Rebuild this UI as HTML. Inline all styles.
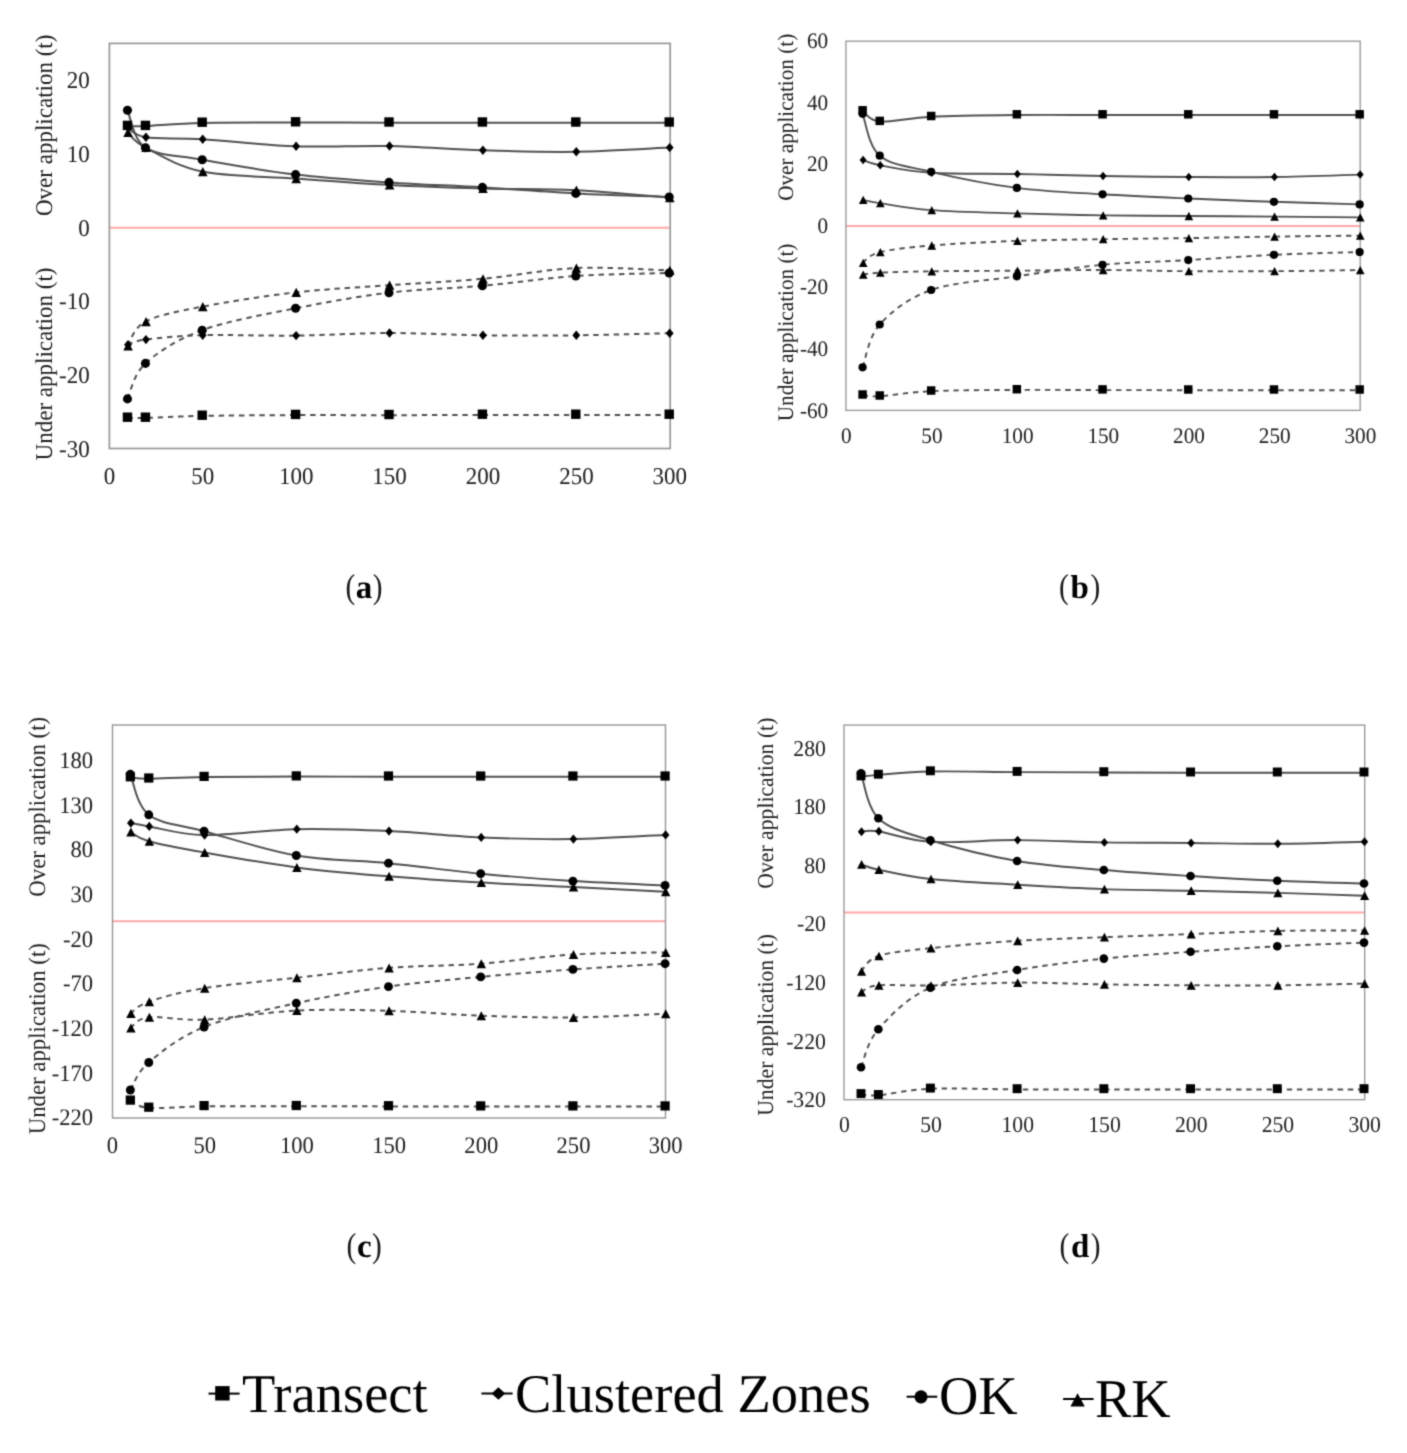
<!DOCTYPE html><html><head><meta charset="utf-8"><style>html,body{margin:0;padding:0;background:#fff;}svg{display:block;}text{font-family:"Liberation Serif", serif;text-rendering:geometricPrecision;}</style></head><body><svg width="1407" height="1453" viewBox="0 0 1407 1453"><defs><filter id="bl" x="0" y="0" width="1407" height="1453" filterUnits="userSpaceOnUse" color-interpolation-filters="sRGB"><feConvolveMatrix order="3" kernelMatrix="1 4 1 4 16 4 1 4 1" divisor="36" edgeMode="duplicate"/></filter></defs><g filter="url(#bl)"><rect width="1407" height="1453" fill="#fff"/><g><line x1="109.4" y1="227.7" x2="670.2" y2="227.7" stroke="#ffa8a8" stroke-width="2"/><rect x="109.4" y="43.4" width="560.8" height="405.1" fill="none" stroke="#989898" stroke-width="1.7"/><path d="M127.48,126.1C130.47,126.1 133,126.63 145.45,126.1C157.9,125.57 177.17,123.5 202.2,122.9C227.22,122.3 264.47,122.53 295.6,122.5C326.73,122.47 357.87,122.67 389,122.7C420.13,122.73 451.27,122.7 482.4,122.7C513.53,122.7 544.67,122.7 575.8,122.7C606.93,122.7 653.63,122.7 669.2,122.7" fill="none" stroke="#515151" stroke-width="2"/><path d="M127.48,127.5C130.47,129.12 133,135.25 145.45,137.2C157.9,139.15 177.17,137.68 202.2,139.2C227.22,140.72 264.47,145.17 295.6,146.3C326.73,147.43 357.87,145.33 389,146C420.13,146.67 451.27,149.33 482.4,150.3C513.53,151.27 544.67,152.25 575.8,151.8C606.93,151.35 653.63,148.3 669.2,147.6" fill="none" stroke="#515151" stroke-width="2"/><path d="M127.48,110.3C130.47,116.53 133,139.47 145.45,147.7C157.9,155.93 177.17,155.22 202.2,159.7C227.22,164.18 264.47,170.82 295.6,174.6C326.73,178.38 357.87,180.27 389,182.4C420.13,184.53 451.27,185.57 482.4,187.4C513.53,189.23 544.67,191.8 575.8,193.4C606.93,195 653.63,196.4 669.2,197" fill="none" stroke="#515151" stroke-width="2"/><path d="M127.48,132.4C130.47,134.92 133,140.97 145.45,147.5C157.9,154.03 177.17,166.42 202.2,171.6C227.22,176.78 264.47,176.37 295.6,178.6C326.73,180.83 357.87,183.35 389,185C420.13,186.65 451.27,187.63 482.4,188.5C513.53,189.37 544.67,188.67 575.8,190.2C606.93,191.73 653.63,196.45 669.2,197.7" fill="none" stroke="#515151" stroke-width="2"/><path d="M127.48,417.9C130.47,417.9 133,418.23 145.45,417.9C157.9,417.57 177.17,416.37 202.2,415.9C227.22,415.43 264.47,415.22 295.6,415.1C326.73,414.98 357.87,415.23 389,415.2C420.13,415.17 451.27,414.95 482.4,414.9C513.53,414.85 544.67,414.9 575.8,414.9C606.93,414.9 653.63,414.9 669.2,414.9" fill="none" stroke="#515151" stroke-width="2" stroke-dasharray="5.4 4.75"/><path d="M127.48,344.7C130.47,343.85 133,341.18 145.45,339.6C157.9,338.02 177.17,335.87 202.2,335.2C227.22,334.53 264.47,335.97 295.6,335.6C326.73,335.23 357.87,333.05 389,333C420.13,332.95 451.27,334.92 482.4,335.3C513.53,335.68 544.67,335.65 575.8,335.3C606.93,334.95 653.63,333.55 669.2,333.2" fill="none" stroke="#515151" stroke-width="2" stroke-dasharray="5.4 4.75"/><path d="M127.48,398.9C130.47,392.98 133,374.85 145.45,363.4C157.9,351.95 177.17,339.38 202.2,330.2C227.22,321.02 264.47,314.55 295.6,308.3C326.73,302.05 357.87,296.45 389,292.7C420.13,288.95 451.27,288.58 482.4,285.8C513.53,283.02 544.67,278.13 575.8,276C606.93,273.87 653.63,273.5 669.2,273" fill="none" stroke="#515151" stroke-width="2" stroke-dasharray="5.4 4.75"/><path d="M127.48,346C130.47,341.93 133,328.15 145.45,321.6C157.9,315.05 177.17,311.57 202.2,306.7C227.22,301.83 264.47,295.98 295.6,292.4C326.73,288.82 357.87,287.47 389,285.2C420.13,282.93 451.27,281.65 482.4,278.8C513.53,275.95 544.67,269.52 575.8,268.1C606.93,266.68 653.63,269.93 669.2,270.3" fill="none" stroke="#515151" stroke-width="2" stroke-dasharray="5.4 4.75"/><g fill="#000"><rect x="122.78" y="120.7" width="9.4" height="9.4"/><rect x="140.75" y="120.7" width="9.4" height="9.4"/><rect x="197.5" y="117.5" width="9.4" height="9.4"/><rect x="290.9" y="117.1" width="9.4" height="9.4"/><rect x="384.3" y="117.3" width="9.4" height="9.4"/><rect x="477.7" y="117.3" width="9.4" height="9.4"/><rect x="571.1" y="117.3" width="9.4" height="9.4"/><rect x="664.5" y="117.3" width="9.4" height="9.4"/><path d="M127.98,122.8L131.88,127.5L127.98,132.2L124.08,127.5Z"/><path d="M145.95,132.5L149.85,137.2L145.95,141.9L142.05,137.2Z"/><path d="M202.7,134.5L206.6,139.2L202.7,143.9L198.8,139.2Z"/><path d="M296.1,141.6L300,146.3L296.1,151L292.2,146.3Z"/><path d="M389.5,141.3L393.4,146L389.5,150.7L385.6,146Z"/><path d="M482.9,145.6L486.8,150.3L482.9,155L479,150.3Z"/><path d="M576.3,147.1L580.2,151.8L576.3,156.5L572.4,151.8Z"/><path d="M669.7,142.9L673.6,147.6L669.7,152.3L665.8,147.6Z"/><circle cx="127.48" cy="110.3" r="4.55"/><circle cx="145.45" cy="147.7" r="4.55"/><circle cx="202.2" cy="159.7" r="4.55"/><circle cx="295.6" cy="174.6" r="4.55"/><circle cx="389" cy="182.4" r="4.55"/><circle cx="482.4" cy="187.4" r="4.55"/><circle cx="575.8" cy="193.4" r="4.55"/><circle cx="669.2" cy="197" r="4.55"/><path d="M128.08,127.8L132.88,137L123.28,137Z"/><path d="M146.05,142.9L150.85,152.1L141.25,152.1Z"/><path d="M202.8,167L207.6,176.2L198,176.2Z"/><path d="M296.2,174L301,183.2L291.4,183.2Z"/><path d="M389.6,180.4L394.4,189.6L384.8,189.6Z"/><path d="M483,183.9L487.8,193.1L478.2,193.1Z"/><path d="M576.4,185.6L581.2,194.8L571.6,194.8Z"/><path d="M669.8,193.1L674.6,202.3L665,202.3Z"/><rect x="122.78" y="412.5" width="9.4" height="9.4"/><rect x="140.75" y="412.5" width="9.4" height="9.4"/><rect x="197.5" y="410.5" width="9.4" height="9.4"/><rect x="290.9" y="409.7" width="9.4" height="9.4"/><rect x="384.3" y="409.8" width="9.4" height="9.4"/><rect x="477.7" y="409.5" width="9.4" height="9.4"/><rect x="571.1" y="409.5" width="9.4" height="9.4"/><rect x="664.5" y="409.5" width="9.4" height="9.4"/><path d="M127.98,340L131.88,344.7L127.98,349.4L124.08,344.7Z"/><path d="M145.95,334.9L149.85,339.6L145.95,344.3L142.05,339.6Z"/><path d="M202.7,330.5L206.6,335.2L202.7,339.9L198.8,335.2Z"/><path d="M296.1,330.9L300,335.6L296.1,340.3L292.2,335.6Z"/><path d="M389.5,328.3L393.4,333L389.5,337.7L385.6,333Z"/><path d="M482.9,330.6L486.8,335.3L482.9,340L479,335.3Z"/><path d="M576.3,330.6L580.2,335.3L576.3,340L572.4,335.3Z"/><path d="M669.7,328.5L673.6,333.2L669.7,337.9L665.8,333.2Z"/><circle cx="127.48" cy="398.9" r="4.55"/><circle cx="145.45" cy="363.4" r="4.55"/><circle cx="202.2" cy="330.2" r="4.55"/><circle cx="295.6" cy="308.3" r="4.55"/><circle cx="389" cy="292.7" r="4.55"/><circle cx="482.4" cy="285.8" r="4.55"/><circle cx="575.8" cy="276" r="4.55"/><circle cx="669.2" cy="273" r="4.55"/><path d="M128.08,341.4L132.88,350.6L123.28,350.6Z"/><path d="M146.05,317L150.85,326.2L141.25,326.2Z"/><path d="M202.8,302.1L207.6,311.3L198,311.3Z"/><path d="M296.2,287.8L301,297L291.4,297Z"/><path d="M389.6,280.6L394.4,289.8L384.8,289.8Z"/><path d="M483,274.2L487.8,283.4L478.2,283.4Z"/><path d="M576.4,263.5L581.2,272.7L571.6,272.7Z"/><path d="M669.8,265.7L674.6,274.9L665,274.9Z"/></g><g font-size="23" fill="#202020"><text transform="translate(89.7,87.83) scale(1,1.045)" text-anchor="end">20</text><text transform="translate(89.7,161.73) scale(1,1.045)" text-anchor="end">10</text><text transform="translate(89.7,235.63) scale(1,1.045)" text-anchor="end">0</text><text transform="translate(89.7,309.33) scale(1,1.045)" text-anchor="end">-10</text><text transform="translate(89.7,383.03) scale(1,1.045)" text-anchor="end">-20</text><text transform="translate(89.7,456.73) scale(1,1.045)" text-anchor="end">-30</text><text transform="translate(109.4,483.93) scale(1,1.045)" text-anchor="middle">0</text><text transform="translate(202.8,483.93) scale(1,1.045)" text-anchor="middle">50</text><text transform="translate(296.2,483.93) scale(1,1.045)" text-anchor="middle">100</text><text transform="translate(389.6,483.93) scale(1,1.045)" text-anchor="middle">150</text><text transform="translate(483,483.93) scale(1,1.045)" text-anchor="middle">200</text><text transform="translate(576.4,483.93) scale(1,1.045)" text-anchor="middle">250</text><text transform="translate(669.8,483.93) scale(1,1.045)" text-anchor="middle">300</text></g><text transform="translate(52.4,125.3) rotate(-90) scale(1,1.045)" text-anchor="middle" font-size="23" fill="#202020">Over application (t)</text><text transform="translate(52.4,364) rotate(-90) scale(1,1.045)" text-anchor="middle" font-size="23" fill="#202020">Under application (t)</text></g><g><line x1="845.9" y1="226" x2="1360.2" y2="226" stroke="#ffa8a8" stroke-width="2"/><rect x="845.9" y="41.2" width="514.3" height="369.2" fill="none" stroke="#989898" stroke-width="1.35"/><path d="M862.6,111C865.46,112.77 868.31,120.65 879.74,121.6C891.17,122.55 908.31,117.8 931.16,116.7C954.01,115.6 988.29,115.28 1016.86,115C1045.43,114.72 1073.99,115 1102.56,115C1131.13,115 1159.69,115 1188.26,115C1216.83,115 1245.39,115 1273.96,115C1302.53,115 1345.38,115 1359.66,115" fill="none" stroke="#515151" stroke-width="1.9"/><path d="M862.6,160C865.46,160.88 868.31,163.17 879.74,165.3C891.17,167.43 908.31,171.35 931.16,172.8C954.01,174.25 988.29,173.47 1016.86,174C1045.43,174.53 1073.99,175.5 1102.56,176C1131.13,176.5 1159.69,176.83 1188.26,177C1216.83,177.17 1245.39,177.4 1273.96,177C1302.53,176.6 1345.38,175 1359.66,174.6" fill="none" stroke="#515151" stroke-width="1.9"/><path d="M862.6,113.8C865.46,120.78 868.31,146.03 879.74,155.7C891.17,165.37 908.31,166.43 931.16,171.8C954.01,177.17 988.29,184.15 1016.86,187.9C1045.43,191.65 1073.99,192.53 1102.56,194.3C1131.13,196.07 1159.69,197.25 1188.26,198.5C1216.83,199.75 1245.39,200.82 1273.96,201.8C1302.53,202.78 1345.38,203.97 1359.66,204.4" fill="none" stroke="#515151" stroke-width="1.9"/><path d="M862.6,199.8C865.46,200.35 868.31,201.38 879.74,203.1C891.17,204.82 908.31,208.38 931.16,210.1C954.01,211.82 988.29,212.52 1016.86,213.4C1045.43,214.28 1073.99,214.97 1102.56,215.4C1131.13,215.83 1159.69,215.8 1188.26,216C1216.83,216.2 1245.39,216.37 1273.96,216.6C1302.53,216.83 1345.38,217.27 1359.66,217.4" fill="none" stroke="#515151" stroke-width="1.9"/><path d="M862.6,395.2C865.46,395.37 868.31,396.87 879.74,396.2C891.17,395.53 908.31,392.25 931.16,391.2C954.01,390.15 988.29,390.08 1016.86,389.9C1045.43,389.72 1073.99,390.05 1102.56,390.1C1131.13,390.15 1159.69,390.18 1188.26,390.2C1216.83,390.22 1245.39,390.2 1273.96,390.2C1302.53,390.2 1345.38,390.2 1359.66,390.2" fill="none" stroke="#515151" stroke-width="1.9" stroke-dasharray="5.4 4.75"/><path d="M862.6,274.7C865.46,274.37 868.31,273.27 879.74,272.7C891.17,272.13 908.31,271.63 931.16,271.3C954.01,270.97 988.29,270.92 1016.86,270.7C1045.43,270.48 1073.99,269.92 1102.56,270C1131.13,270.08 1159.69,271 1188.26,271.2C1216.83,271.4 1245.39,271.38 1273.96,271.2C1302.53,271.02 1345.38,270.28 1359.66,270.1" fill="none" stroke="#515151" stroke-width="1.9" stroke-dasharray="5.4 4.75"/><path d="M862.6,367.3C865.46,360.17 868.31,337.38 879.74,324.5C891.17,311.62 908.31,298.03 931.16,290C954.01,281.97 988.29,280.5 1016.86,276.3C1045.43,272.1 1073.99,267.5 1102.56,264.8C1131.13,262.1 1159.69,261.77 1188.26,260.1C1216.83,258.43 1245.39,256.15 1273.96,254.8C1302.53,253.45 1345.38,252.47 1359.66,252" fill="none" stroke="#515151" stroke-width="1.9" stroke-dasharray="5.4 4.75"/><path d="M862.6,262.8C865.46,261.03 868.31,255.08 879.74,252.2C891.17,249.32 908.31,247.38 931.16,245.5C954.01,243.62 988.29,241.95 1016.86,240.9C1045.43,239.85 1073.99,239.67 1102.56,239.2C1131.13,238.73 1159.69,238.53 1188.26,238.1C1216.83,237.67 1245.39,237.02 1273.96,236.6C1302.53,236.18 1345.38,235.77 1359.66,235.6" fill="none" stroke="#515151" stroke-width="1.9" stroke-dasharray="5.4 4.75"/><g fill="#000"><rect x="858.37" y="106.07" width="8.46" height="8.46"/><rect x="875.51" y="116.67" width="8.46" height="8.46"/><rect x="926.93" y="111.77" width="8.46" height="8.46"/><rect x="1012.63" y="110.07" width="8.46" height="8.46"/><rect x="1098.33" y="110.07" width="8.46" height="8.46"/><rect x="1184.03" y="110.07" width="8.46" height="8.46"/><rect x="1269.73" y="110.07" width="8.46" height="8.46"/><rect x="1355.43" y="110.07" width="8.46" height="8.46"/><path d="M863.1,155.77L866.61,160L863.1,164.23L859.59,160Z"/><path d="M880.24,161.07L883.75,165.3L880.24,169.53L876.73,165.3Z"/><path d="M931.66,168.57L935.17,172.8L931.66,177.03L928.15,172.8Z"/><path d="M1017.36,169.77L1020.87,174L1017.36,178.23L1013.85,174Z"/><path d="M1103.06,171.77L1106.57,176L1103.06,180.23L1099.55,176Z"/><path d="M1188.76,172.77L1192.27,177L1188.76,181.23L1185.25,177Z"/><path d="M1274.46,172.77L1277.97,177L1274.46,181.23L1270.95,177Z"/><path d="M1360.16,170.37L1363.67,174.6L1360.16,178.83L1356.65,174.6Z"/><circle cx="862.6" cy="113.8" r="4.09"/><circle cx="879.74" cy="155.7" r="4.09"/><circle cx="931.16" cy="171.8" r="4.09"/><circle cx="1016.86" cy="187.9" r="4.09"/><circle cx="1102.56" cy="194.3" r="4.09"/><circle cx="1188.26" cy="198.5" r="4.09"/><circle cx="1273.96" cy="201.8" r="4.09"/><circle cx="1359.66" cy="204.4" r="4.09"/><path d="M863.2,195.66L867.52,203.94L858.88,203.94Z"/><path d="M880.34,198.96L884.66,207.24L876.02,207.24Z"/><path d="M931.76,205.96L936.08,214.24L927.44,214.24Z"/><path d="M1017.46,209.26L1021.78,217.54L1013.14,217.54Z"/><path d="M1103.16,211.26L1107.48,219.54L1098.84,219.54Z"/><path d="M1188.86,211.86L1193.18,220.14L1184.54,220.14Z"/><path d="M1274.56,212.46L1278.88,220.74L1270.24,220.74Z"/><path d="M1360.26,213.26L1364.58,221.54L1355.94,221.54Z"/><rect x="858.37" y="390.27" width="8.46" height="8.46"/><rect x="875.51" y="391.27" width="8.46" height="8.46"/><rect x="926.93" y="386.27" width="8.46" height="8.46"/><rect x="1012.63" y="384.97" width="8.46" height="8.46"/><rect x="1098.33" y="385.17" width="8.46" height="8.46"/><rect x="1184.03" y="385.27" width="8.46" height="8.46"/><rect x="1269.73" y="385.27" width="8.46" height="8.46"/><rect x="1355.43" y="385.27" width="8.46" height="8.46"/><path d="M863.2,270.56L867.52,278.84L858.88,278.84Z"/><path d="M880.34,268.56L884.66,276.84L876.02,276.84Z"/><path d="M931.76,267.16L936.08,275.44L927.44,275.44Z"/><path d="M1017.46,266.56L1021.78,274.84L1013.14,274.84Z"/><path d="M1103.16,265.86L1107.48,274.14L1098.84,274.14Z"/><path d="M1188.86,267.06L1193.18,275.34L1184.54,275.34Z"/><path d="M1274.56,267.06L1278.88,275.34L1270.24,275.34Z"/><path d="M1360.26,265.96L1364.58,274.24L1355.94,274.24Z"/><circle cx="862.6" cy="367.3" r="4.09"/><circle cx="879.74" cy="324.5" r="4.09"/><circle cx="931.16" cy="290" r="4.09"/><circle cx="1016.86" cy="276.3" r="4.09"/><circle cx="1102.56" cy="264.8" r="4.09"/><circle cx="1188.26" cy="260.1" r="4.09"/><circle cx="1273.96" cy="254.8" r="4.09"/><circle cx="1359.66" cy="252" r="4.09"/><path d="M863.2,258.66L867.52,266.94L858.88,266.94Z"/><path d="M880.34,248.06L884.66,256.34L876.02,256.34Z"/><path d="M931.76,241.36L936.08,249.64L927.44,249.64Z"/><path d="M1017.46,236.76L1021.78,245.04L1013.14,245.04Z"/><path d="M1103.16,235.06L1107.48,243.34L1098.84,243.34Z"/><path d="M1188.86,233.96L1193.18,242.24L1184.54,242.24Z"/><path d="M1274.56,232.46L1278.88,240.74L1270.24,240.74Z"/><path d="M1360.26,231.46L1364.58,239.74L1355.94,239.74Z"/></g><g font-size="21.2" fill="#202020"><text transform="translate(828.2,48.21) scale(1,1.045)" text-anchor="end">60</text><text transform="translate(828.2,109.76) scale(1,1.045)" text-anchor="end">40</text><text transform="translate(828.2,171.31) scale(1,1.045)" text-anchor="end">20</text><text transform="translate(828.2,232.86) scale(1,1.045)" text-anchor="end">0</text><text transform="translate(828.2,294.41) scale(1,1.045)" text-anchor="end">-20</text><text transform="translate(828.2,355.96) scale(1,1.045)" text-anchor="end">-40</text><text transform="translate(828.2,417.51) scale(1,1.045)" text-anchor="end">-60</text><text transform="translate(846.21,442.71) scale(1,1.045)" text-anchor="middle">0</text><text transform="translate(931.91,442.71) scale(1,1.045)" text-anchor="middle">50</text><text transform="translate(1017.61,442.71) scale(1,1.045)" text-anchor="middle">100</text><text transform="translate(1103.31,442.71) scale(1,1.045)" text-anchor="middle">150</text><text transform="translate(1189.01,442.71) scale(1,1.045)" text-anchor="middle">200</text><text transform="translate(1274.71,442.71) scale(1,1.045)" text-anchor="middle">250</text><text transform="translate(1360.41,442.71) scale(1,1.045)" text-anchor="middle">300</text></g><text transform="translate(793,117.3) rotate(-90) scale(1,1.045)" text-anchor="middle" font-size="21.2" fill="#202020">Over application (t)</text><text transform="translate(793,332.4) rotate(-90) scale(1,1.045)" text-anchor="middle" font-size="21.2" fill="#202020">Under application (t)</text></g><g><line x1="112.5" y1="921.3" x2="665.5" y2="921.3" stroke="#ffa8a8" stroke-width="2"/><rect x="112.5" y="725" width="553" height="393" fill="none" stroke="#989898" stroke-width="1.45"/><path d="M130.34,777.5C133.41,777.7 136.49,778.77 148.78,778.7C161.07,778.63 179.51,777.45 204.1,777.1C228.69,776.75 265.57,776.67 296.3,776.6C327.03,776.53 357.77,776.68 388.5,776.7C419.23,776.72 449.97,776.7 480.7,776.7C511.43,776.7 542.17,776.7 572.9,776.7C603.63,776.7 649.73,776.7 665.1,776.7" fill="none" stroke="#515151" stroke-width="1.98"/><path d="M130.34,823.1C133.41,823.65 136.49,824.4 148.78,826.4C161.07,828.4 179.51,834.63 204.1,835.1C228.69,835.57 265.57,829.87 296.3,829.2C327.03,828.53 357.77,829.73 388.5,831.1C419.23,832.47 449.97,836.07 480.7,837.4C511.43,838.73 542.17,839.52 572.9,839.1C603.63,838.68 649.73,835.6 665.1,834.9" fill="none" stroke="#515151" stroke-width="1.98"/><path d="M130.34,774.3C133.41,781.05 136.49,805.32 148.78,814.8C161.07,824.28 179.51,824.42 204.1,831.2C228.69,837.98 265.57,850.17 296.3,855.5C327.03,860.83 357.77,860.17 388.5,863.2C419.23,866.23 449.97,870.72 480.7,873.7C511.43,876.68 542.17,879.15 572.9,881.1C603.63,883.05 649.73,884.68 665.1,885.4" fill="none" stroke="#515151" stroke-width="1.98"/><path d="M130.34,832.1C133.41,833.62 136.49,837.82 148.78,841.2C161.07,844.58 179.51,848.03 204.1,852.4C228.69,856.77 265.57,863.42 296.3,867.4C327.03,871.38 357.77,873.77 388.5,876.3C419.23,878.83 449.97,880.8 480.7,882.6C511.43,884.4 542.17,885.57 572.9,887.1C603.63,888.63 649.73,891.02 665.1,891.8" fill="none" stroke="#515151" stroke-width="1.98"/><path d="M130.34,1100.8C133.41,1101.98 136.49,1106.98 148.78,1107.9C161.07,1108.82 179.51,1106.58 204.1,1106.3C228.69,1106.02 265.57,1106.18 296.3,1106.2C327.03,1106.22 357.77,1106.33 388.5,1106.4C419.23,1106.47 449.97,1106.57 480.7,1106.6C511.43,1106.63 542.17,1106.6 572.9,1106.6C603.63,1106.6 649.73,1106.6 665.1,1106.6" fill="none" stroke="#515151" stroke-width="1.98" stroke-dasharray="5.4 4.75"/><path d="M130.34,1028C133.41,1026.2 136.49,1018.58 148.78,1017.2C161.07,1015.82 179.51,1020.8 204.1,1019.7C228.69,1018.6 265.57,1012.08 296.3,1010.6C327.03,1009.12 357.77,1009.95 388.5,1010.8C419.23,1011.65 449.97,1014.6 480.7,1015.7C511.43,1016.8 542.17,1017.72 572.9,1017.4C603.63,1017.08 649.73,1014.4 665.1,1013.8" fill="none" stroke="#515151" stroke-width="1.98" stroke-dasharray="5.4 4.75"/><path d="M130.34,1090C133.41,1085.42 136.49,1073 148.78,1062.5C161.07,1052 179.51,1036.88 204.1,1027C228.69,1017.12 265.57,1009.93 296.3,1003.2C327.03,996.47 357.77,990.98 388.5,986.6C419.23,982.22 449.97,979.77 480.7,976.9C511.43,974.03 542.17,971.6 572.9,969.4C603.63,967.2 649.73,964.65 665.1,963.7" fill="none" stroke="#515151" stroke-width="1.98" stroke-dasharray="5.4 4.75"/><path d="M130.34,1013.6C133.41,1011.62 136.49,1005.93 148.78,1001.7C161.07,997.47 179.51,992.18 204.1,988.2C228.69,984.22 265.57,981.18 296.3,977.8C327.03,974.42 357.77,970.25 388.5,967.9C419.23,965.55 449.97,965.93 480.7,963.7C511.43,961.47 542.17,956.38 572.9,954.5C603.63,952.62 649.73,952.75 665.1,952.4" fill="none" stroke="#515151" stroke-width="1.98" stroke-dasharray="5.4 4.75"/><g fill="#000"><rect x="125.73" y="772.19" width="9.21" height="9.21"/><rect x="144.17" y="773.39" width="9.21" height="9.21"/><rect x="199.49" y="771.79" width="9.21" height="9.21"/><rect x="291.69" y="771.29" width="9.21" height="9.21"/><rect x="383.89" y="771.39" width="9.21" height="9.21"/><rect x="476.09" y="771.39" width="9.21" height="9.21"/><rect x="568.29" y="771.39" width="9.21" height="9.21"/><rect x="660.49" y="771.39" width="9.21" height="9.21"/><path d="M130.84,818.49L134.66,823.1L130.84,827.71L127.02,823.1Z"/><path d="M149.28,821.79L153.1,826.4L149.28,831.01L145.46,826.4Z"/><path d="M204.6,830.49L208.42,835.1L204.6,839.71L200.78,835.1Z"/><path d="M296.8,824.59L300.62,829.2L296.8,833.81L292.98,829.2Z"/><path d="M389,826.49L392.82,831.1L389,835.71L385.18,831.1Z"/><path d="M481.2,832.79L485.02,837.4L481.2,842.01L477.38,837.4Z"/><path d="M573.4,834.49L577.22,839.1L573.4,843.71L569.58,839.1Z"/><path d="M665.6,830.29L669.42,834.9L665.6,839.51L661.78,834.9Z"/><circle cx="130.34" cy="774.3" r="4.46"/><circle cx="148.78" cy="814.8" r="4.46"/><circle cx="204.1" cy="831.2" r="4.46"/><circle cx="296.3" cy="855.5" r="4.46"/><circle cx="388.5" cy="863.2" r="4.46"/><circle cx="480.7" cy="873.7" r="4.46"/><circle cx="572.9" cy="881.1" r="4.46"/><circle cx="665.1" cy="885.4" r="4.46"/><path d="M130.94,827.59L135.64,836.61L126.24,836.61Z"/><path d="M149.38,836.69L154.08,845.71L144.68,845.71Z"/><path d="M204.7,847.89L209.4,856.91L200,856.91Z"/><path d="M296.9,862.89L301.6,871.91L292.2,871.91Z"/><path d="M389.1,871.79L393.8,880.81L384.4,880.81Z"/><path d="M481.3,878.09L486,887.11L476.6,887.11Z"/><path d="M573.5,882.59L578.2,891.61L568.8,891.61Z"/><path d="M665.7,887.29L670.4,896.31L661,896.31Z"/><rect x="125.73" y="1095.49" width="9.21" height="9.21"/><rect x="144.17" y="1102.59" width="9.21" height="9.21"/><rect x="199.49" y="1100.99" width="9.21" height="9.21"/><rect x="291.69" y="1100.89" width="9.21" height="9.21"/><rect x="383.89" y="1101.09" width="9.21" height="9.21"/><rect x="476.09" y="1101.29" width="9.21" height="9.21"/><rect x="568.29" y="1101.29" width="9.21" height="9.21"/><rect x="660.49" y="1101.29" width="9.21" height="9.21"/><path d="M130.94,1023.49L135.64,1032.51L126.24,1032.51Z"/><path d="M149.38,1012.69L154.08,1021.71L144.68,1021.71Z"/><path d="M204.7,1015.19L209.4,1024.21L200,1024.21Z"/><path d="M296.9,1006.09L301.6,1015.11L292.2,1015.11Z"/><path d="M389.1,1006.29L393.8,1015.31L384.4,1015.31Z"/><path d="M481.3,1011.19L486,1020.21L476.6,1020.21Z"/><path d="M573.5,1012.89L578.2,1021.91L568.8,1021.91Z"/><path d="M665.7,1009.29L670.4,1018.31L661,1018.31Z"/><circle cx="130.34" cy="1090" r="4.46"/><circle cx="148.78" cy="1062.5" r="4.46"/><circle cx="204.1" cy="1027" r="4.46"/><circle cx="296.3" cy="1003.2" r="4.46"/><circle cx="388.5" cy="986.6" r="4.46"/><circle cx="480.7" cy="976.9" r="4.46"/><circle cx="572.9" cy="969.4" r="4.46"/><circle cx="665.1" cy="963.7" r="4.46"/><path d="M130.94,1009.09L135.64,1018.11L126.24,1018.11Z"/><path d="M149.38,997.19L154.08,1006.21L144.68,1006.21Z"/><path d="M204.7,983.69L209.4,992.71L200,992.71Z"/><path d="M296.9,973.29L301.6,982.31L292.2,982.31Z"/><path d="M389.1,963.39L393.8,972.41L384.4,972.41Z"/><path d="M481.3,959.19L486,968.21L476.6,968.21Z"/><path d="M573.5,949.99L578.2,959.01L568.8,959.01Z"/><path d="M665.7,947.89L670.4,956.91L661,956.91Z"/></g><g font-size="22.6" fill="#202020"><text transform="translate(93.1,768.09) scale(1,1.045)" text-anchor="end">180</text><text transform="translate(93.1,812.76) scale(1,1.045)" text-anchor="end">130</text><text transform="translate(93.1,857.44) scale(1,1.045)" text-anchor="end">80</text><text transform="translate(93.1,902.12) scale(1,1.045)" text-anchor="end">30</text><text transform="translate(93.1,946.79) scale(1,1.045)" text-anchor="end">-20</text><text transform="translate(93.1,991.46) scale(1,1.045)" text-anchor="end">-70</text><text transform="translate(93.1,1036.14) scale(1,1.045)" text-anchor="end">-120</text><text transform="translate(93.1,1080.82) scale(1,1.045)" text-anchor="end">-170</text><text transform="translate(93.1,1125.49) scale(1,1.045)" text-anchor="end">-220</text><text transform="translate(112.5,1152.84) scale(1,1.045)" text-anchor="middle">0</text><text transform="translate(204.7,1152.84) scale(1,1.045)" text-anchor="middle">50</text><text transform="translate(296.9,1152.84) scale(1,1.045)" text-anchor="middle">100</text><text transform="translate(389.1,1152.84) scale(1,1.045)" text-anchor="middle">150</text><text transform="translate(481.3,1152.84) scale(1,1.045)" text-anchor="middle">200</text><text transform="translate(573.5,1152.84) scale(1,1.045)" text-anchor="middle">250</text><text transform="translate(665.7,1152.84) scale(1,1.045)" text-anchor="middle">300</text></g><text transform="translate(44.9,806.8) rotate(-90) scale(1,1.045)" text-anchor="middle" font-size="22.8" fill="#202020">Over application (t)</text><text transform="translate(44.9,1038.75) rotate(-90) scale(1,1.045)" text-anchor="middle" font-size="22.8" fill="#202020">Under application (t)</text></g><g><line x1="844" y1="912.5" x2="1364.7" y2="912.5" stroke="#ffa8a8" stroke-width="2"/><rect x="844" y="725.1" width="520.7" height="374.6" fill="none" stroke="#989898" stroke-width="1.35"/><path d="M861,776.6C863.9,776.32 866.79,775.75 878.35,774.9C889.91,774.05 907.26,771.97 930.38,771.5C953.51,771.03 988.2,771.95 1017.11,772.1C1046.02,772.25 1074.93,772.3 1103.84,772.4C1132.74,772.5 1161.65,772.65 1190.56,772.7C1219.47,772.75 1248.38,772.7 1277.28,772.7C1306.19,772.7 1349.56,772.7 1364.01,772.7" fill="none" stroke="#515151" stroke-width="1.95"/><path d="M861,831.7C863.9,831.63 866.79,829.62 878.35,831.3C889.91,832.98 907.26,840.33 930.38,841.8C953.51,843.27 988.2,840 1017.11,840.1C1046.02,840.2 1074.93,841.92 1103.84,842.4C1132.74,842.88 1161.65,842.77 1190.56,843C1219.47,843.23 1248.38,844.02 1277.28,843.8C1306.19,843.58 1349.56,842.05 1364.01,841.7" fill="none" stroke="#515151" stroke-width="1.95"/><path d="M861,773.3C863.9,780.78 866.79,807.03 878.35,818.2C889.91,829.37 907.26,833.17 930.38,840.3C953.51,847.43 988.2,856.05 1017.11,861C1046.02,865.95 1074.93,867.5 1103.84,870C1132.74,872.5 1161.65,874.22 1190.56,876C1219.47,877.78 1248.38,879.45 1277.28,880.7C1306.19,881.95 1349.56,883.03 1364.01,883.5" fill="none" stroke="#515151" stroke-width="1.95"/><path d="M861,864.3C863.9,865.2 866.79,867.25 878.35,869.7C889.91,872.15 907.26,876.5 930.38,879C953.51,881.5 988.2,883.02 1017.11,884.7C1046.02,886.38 1074.93,888.1 1103.84,889.1C1132.74,890.1 1161.65,890.07 1190.56,890.7C1219.47,891.33 1248.38,892.07 1277.28,892.9C1306.19,893.73 1349.56,895.23 1364.01,895.7" fill="none" stroke="#515151" stroke-width="1.95"/><path d="M861,1094.3C863.9,1094.45 866.79,1096.12 878.35,1095.2C889.91,1094.28 907.26,1089.77 930.38,1088.8C953.51,1087.83 988.2,1089.3 1017.11,1089.4C1046.02,1089.5 1074.93,1089.4 1103.84,1089.4C1132.74,1089.4 1161.65,1089.4 1190.56,1089.4C1219.47,1089.4 1248.38,1089.4 1277.28,1089.4C1306.19,1089.4 1349.56,1089.4 1364.01,1089.4" fill="none" stroke="#515151" stroke-width="1.95" stroke-dasharray="5.4 4.75"/><path d="M861,992.1C863.9,990.97 866.79,986.4 878.35,985.3C889.91,984.2 907.26,985.95 930.38,985.5C953.51,985.05 988.2,982.78 1017.11,982.6C1046.02,982.42 1074.93,983.95 1103.84,984.4C1132.74,984.85 1161.65,985.15 1190.56,985.3C1219.47,985.45 1248.38,985.58 1277.28,985.3C1306.19,985.02 1349.56,983.88 1364.01,983.6" fill="none" stroke="#515151" stroke-width="1.95" stroke-dasharray="5.4 4.75"/><path d="M861,1067.2C863.9,1060.88 866.79,1042.55 878.35,1029.3C889.91,1016.05 907.26,997.58 930.38,987.7C953.51,977.82 988.2,974.85 1017.11,970C1046.02,965.15 1074.93,961.63 1103.84,958.6C1132.74,955.57 1161.65,953.85 1190.56,951.8C1219.47,949.75 1248.38,947.83 1277.28,946.3C1306.19,944.77 1349.56,943.22 1364.01,942.6" fill="none" stroke="#515151" stroke-width="1.95" stroke-dasharray="5.4 4.75"/><path d="M861,971.3C863.9,968.75 866.79,959.85 878.35,956C889.91,952.15 907.26,950.73 930.38,948.2C953.51,945.67 988.2,942.63 1017.11,940.8C1046.02,938.97 1074.93,938.32 1103.84,937.2C1132.74,936.08 1161.65,935.15 1190.56,934.1C1219.47,933.05 1248.38,931.5 1277.28,930.9C1306.19,930.3 1349.56,930.57 1364.01,930.5" fill="none" stroke="#515151" stroke-width="1.95" stroke-dasharray="5.4 4.75"/><g fill="#000"><rect x="856.54" y="771.43" width="8.93" height="8.93"/><rect x="873.88" y="769.74" width="8.93" height="8.93"/><rect x="925.92" y="766.33" width="8.93" height="8.93"/><rect x="1012.64" y="766.93" width="8.93" height="8.93"/><rect x="1099.37" y="767.24" width="8.93" height="8.93"/><rect x="1186.1" y="767.53" width="8.93" height="8.93"/><rect x="1272.82" y="767.53" width="8.93" height="8.93"/><rect x="1359.55" y="767.53" width="8.93" height="8.93"/><path d="M861.5,827.24L865.21,831.7L861.5,836.17L857.8,831.7Z"/><path d="M878.85,826.83L882.55,831.3L878.85,835.76L875.14,831.3Z"/><path d="M930.88,837.33L934.59,841.8L930.88,846.26L927.18,841.8Z"/><path d="M1017.61,835.63L1021.31,840.1L1017.61,844.57L1013.9,840.1Z"/><path d="M1104.34,837.93L1108.04,842.4L1104.34,846.87L1100.63,842.4Z"/><path d="M1191.06,838.53L1194.76,843L1191.06,847.47L1187.36,843Z"/><path d="M1277.78,839.33L1281.49,843.8L1277.78,848.26L1274.08,843.8Z"/><path d="M1364.51,837.24L1368.21,841.7L1364.51,846.17L1360.81,841.7Z"/><circle cx="861" cy="773.3" r="4.32"/><circle cx="878.35" cy="818.2" r="4.32"/><circle cx="930.38" cy="840.3" r="4.32"/><circle cx="1017.11" cy="861" r="4.32"/><circle cx="1103.84" cy="870" r="4.32"/><circle cx="1190.56" cy="876" r="4.32"/><circle cx="1277.28" cy="880.7" r="4.32"/><circle cx="1364.01" cy="883.5" r="4.32"/><path d="M861.61,859.93L866.16,868.67L857.05,868.67Z"/><path d="M878.95,865.33L883.51,874.07L874.39,874.07Z"/><path d="M930.99,874.63L935.54,883.37L926.43,883.37Z"/><path d="M1017.71,880.33L1022.27,889.07L1013.15,889.07Z"/><path d="M1104.43,884.73L1108.99,893.47L1099.88,893.47Z"/><path d="M1191.16,886.33L1195.72,895.07L1186.6,895.07Z"/><path d="M1277.88,888.53L1282.44,897.27L1273.32,897.27Z"/><path d="M1364.61,891.33L1369.17,900.07L1360.05,900.07Z"/><rect x="856.54" y="1089.13" width="8.93" height="8.93"/><rect x="873.88" y="1090.04" width="8.93" height="8.93"/><rect x="925.92" y="1083.63" width="8.93" height="8.93"/><rect x="1012.64" y="1084.24" width="8.93" height="8.93"/><rect x="1099.37" y="1084.24" width="8.93" height="8.93"/><rect x="1186.1" y="1084.24" width="8.93" height="8.93"/><rect x="1272.82" y="1084.24" width="8.93" height="8.93"/><rect x="1359.55" y="1084.24" width="8.93" height="8.93"/><path d="M861.61,987.73L866.16,996.47L857.05,996.47Z"/><path d="M878.95,980.93L883.51,989.67L874.39,989.67Z"/><path d="M930.99,981.13L935.54,989.87L926.43,989.87Z"/><path d="M1017.71,978.23L1022.27,986.97L1013.15,986.97Z"/><path d="M1104.43,980.03L1108.99,988.77L1099.88,988.77Z"/><path d="M1191.16,980.93L1195.72,989.67L1186.6,989.67Z"/><path d="M1277.88,980.93L1282.44,989.67L1273.32,989.67Z"/><path d="M1364.61,979.23L1369.17,987.97L1360.05,987.97Z"/><circle cx="861" cy="1067.2" r="4.32"/><circle cx="878.35" cy="1029.3" r="4.32"/><circle cx="930.38" cy="987.7" r="4.32"/><circle cx="1017.11" cy="970" r="4.32"/><circle cx="1103.84" cy="958.6" r="4.32"/><circle cx="1190.56" cy="951.8" r="4.32"/><circle cx="1277.28" cy="946.3" r="4.32"/><circle cx="1364.01" cy="942.6" r="4.32"/><path d="M861.61,966.93L866.16,975.67L857.05,975.67Z"/><path d="M878.95,951.63L883.51,960.37L874.39,960.37Z"/><path d="M930.99,943.83L935.54,952.57L926.43,952.57Z"/><path d="M1017.71,936.43L1022.27,945.17L1013.15,945.17Z"/><path d="M1104.43,932.83L1108.99,941.57L1099.88,941.57Z"/><path d="M1191.16,929.73L1195.72,938.47L1186.6,938.47Z"/><path d="M1277.88,926.53L1282.44,935.27L1273.32,935.27Z"/><path d="M1364.61,926.13L1369.17,934.87L1360.05,934.87Z"/></g><g font-size="21.7" fill="#202020"><text transform="translate(825.9,755.83) scale(1,1.045)" text-anchor="end">280</text><text transform="translate(825.9,814.37) scale(1,1.045)" text-anchor="end">180</text><text transform="translate(825.9,872.91) scale(1,1.045)" text-anchor="end">80</text><text transform="translate(825.9,931.45) scale(1,1.045)" text-anchor="end">-20</text><text transform="translate(825.9,990) scale(1,1.045)" text-anchor="end">-120</text><text transform="translate(825.9,1048.54) scale(1,1.045)" text-anchor="end">-220</text><text transform="translate(825.9,1107.08) scale(1,1.045)" text-anchor="end">-320</text><text transform="translate(844.31,1132.38) scale(1,1.045)" text-anchor="middle">0</text><text transform="translate(931.03,1132.38) scale(1,1.045)" text-anchor="middle">50</text><text transform="translate(1017.76,1132.38) scale(1,1.045)" text-anchor="middle">100</text><text transform="translate(1104.49,1132.38) scale(1,1.045)" text-anchor="middle">150</text><text transform="translate(1191.21,1132.38) scale(1,1.045)" text-anchor="middle">200</text><text transform="translate(1277.93,1132.38) scale(1,1.045)" text-anchor="middle">250</text><text transform="translate(1364.66,1132.38) scale(1,1.045)" text-anchor="middle">300</text></g><text transform="translate(773.1,803.15) rotate(-90) scale(1,1.045)" text-anchor="middle" font-size="21.7" fill="#202020">Over application (t)</text><text transform="translate(773.1,1024.9) rotate(-90) scale(1,1.045)" text-anchor="middle" font-size="21.7" fill="#202020">Under application (t)</text></g><text transform="translate(350.4,598.05) scale(0.85,1)" text-anchor="middle" font-size="34.5" fill="#1a1a1a">(</text><text transform="translate(377.6,598.05) scale(0.85,1)" text-anchor="middle" font-size="34.5" fill="#1a1a1a">)</text><text x="364" y="598.05" text-anchor="middle" font-size="33" font-weight="bold" fill="#000">a</text><text transform="translate(1064,598.05) scale(0.85,1)" text-anchor="middle" font-size="34.5" fill="#1a1a1a">(</text><text transform="translate(1095.3,598.05) scale(0.85,1)" text-anchor="middle" font-size="34.5" fill="#1a1a1a">)</text><text x="1079.6" y="598.05" text-anchor="middle" font-size="33" font-weight="bold" fill="#000">b</text><text transform="translate(351.5,1256.9) scale(0.85,1)" text-anchor="middle" font-size="34.5" fill="#1a1a1a">(</text><text transform="translate(377,1256.9) scale(0.85,1)" text-anchor="middle" font-size="34.5" fill="#1a1a1a">)</text><text x="364.4" y="1256.9" text-anchor="middle" font-size="33" font-weight="bold" fill="#000">c</text><text transform="translate(1064.5,1256.9) scale(0.85,1)" text-anchor="middle" font-size="34.5" fill="#1a1a1a">(</text><text transform="translate(1095.6,1256.9) scale(0.85,1)" text-anchor="middle" font-size="34.5" fill="#1a1a1a">)</text><text x="1080.3" y="1256.9" text-anchor="middle" font-size="33" font-weight="bold" fill="#000">d</text><g><line x1="208.5" y1="1393.6" x2="239.6" y2="1393.6" stroke="#000" stroke-width="2"/><rect x="215.2" y="1386.1" width="14.4" height="14.4" fill="#000"/><text x="242" y="1411.9" font-size="54.5" fill="#000">Transect</text><line x1="481.4" y1="1393.5" x2="512.6" y2="1393.5" stroke="#000" stroke-width="2"/><path d="M498.4,1387.2L505.2,1393.5L498.4,1399.8L491.6,1393.5Z" fill="#000"/><text x="515" y="1411.5" font-size="54.5" fill="#000">Clustered Zones</text><line x1="906.6" y1="1396.7" x2="937.3" y2="1396.7" stroke="#000" stroke-width="2"/><circle cx="921" cy="1396.8" r="6.6" fill="#000"/><text x="939" y="1414.4" font-size="54.5" fill="#000">OK</text><line x1="1063.1" y1="1399" x2="1093.6" y2="1399" stroke="#000" stroke-width="2"/><path d="M1077.6,1393.3L1084.8,1406.5L1070.4,1406.5Z" fill="#000"/><text x="1095" y="1417.1" font-size="54.5" fill="#000">RK</text></g></g></svg></body></html>
